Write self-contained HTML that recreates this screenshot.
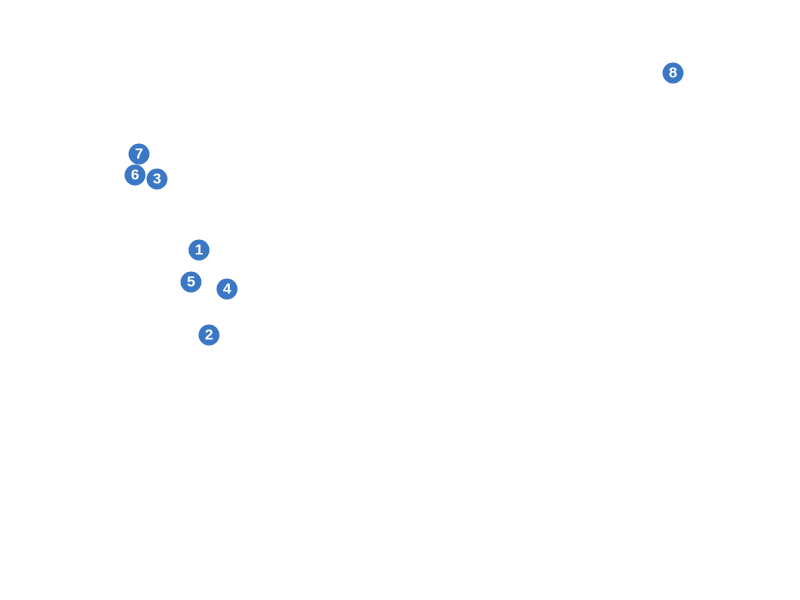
<!DOCTYPE html>
<html><head><style>
body{margin:0;width:800px;height:600px;background:#fff;position:relative;overflow:hidden}
.c{position:absolute;width:21px;height:21px;border-radius:50%;background:#3a77c5;color:#fff;font:bold 15px "Liberation Sans",sans-serif;text-align:center;line-height:22px;transform:translate(-50%,-50%)}
</style></head><body>
<div class="c" style="left:673px;top:73px">8</div>
<div class="c" style="left:139px;top:154px">7</div>
<div class="c" style="left:135px;top:175px">6</div>
<div class="c" style="left:157px;top:179px">3</div>
<div class="c" style="left:199px;top:250px">1</div>
<div class="c" style="left:191px;top:282px">5</div>
<div class="c" style="left:227px;top:289px">4</div>
<div class="c" style="left:209px;top:335px">2</div>
</body></html>
